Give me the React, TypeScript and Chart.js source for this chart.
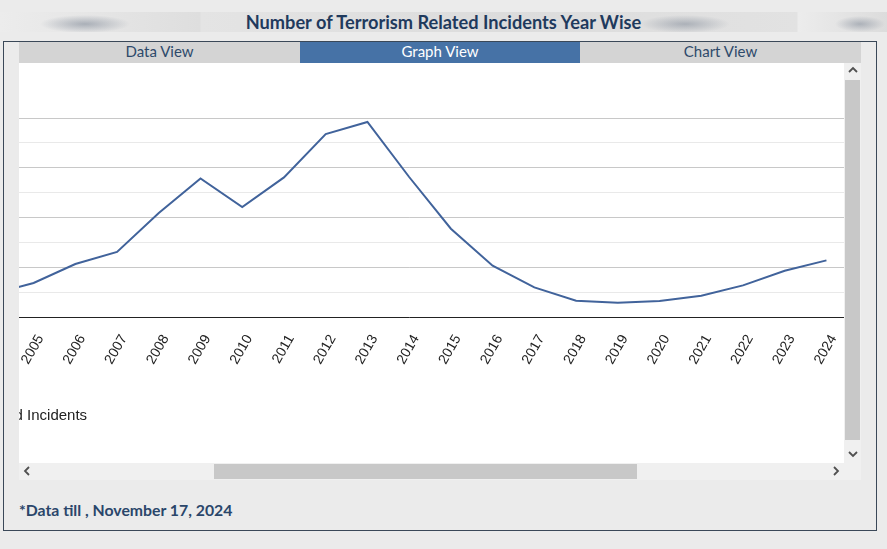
import React, { useEffect, useRef } from 'react';
import { Chart, registerables } from 'chart.js';

Chart.register(...registerables);

const years = ['2004', '2005', '2006', '2007', '2008', '2009', '2010', '2011', '2012', '2013', '2014', '2015', '2016', '2017', '2018', '2019', '2020', '2021', '2022', '2023', '2024'];
const incidents = [460, 683, 1065, 1307, 2090, 2786, 2211, 2806, 3678, 3920, 2814, 1775, 1031, 595, 328, 287, 322, 428, 635, 931, 1138];
const yMax = 4000;
const yStep = 500;
const seriesLabel = 'Terrorism Related Incidents';
const titleText = 'Number of Terrorism Related Incidents Year Wise';
const tabLabels = ['Data View', 'Graph View', 'Chart View'];
const footnote = '*Data till , November 17, 2024';

const ARIAL = '"Liberation Sans", Arial, sans-serif';
const UIFONT = 'Lato, "Open Sans", sans-serif';

function Chevron({ dir, x, y }: { dir: 'up' | 'down' | 'left' | 'right'; x: number; y: number }) {
  const pts: Record<string, string> = {
    up: '1,6 5,2 9,6',
    down: '1,2 5,6 9,2',
    left: '6,1 2,5 6,9',
    right: '2,1 6,5 2,9',
  };
  return (
    <svg width={10} height={10} style={{ position: 'absolute', left: x, top: y }}>
      <polyline points={pts[dir]} fill="none" stroke="#505050" strokeWidth={1.8} />
    </svg>
  );
}

export default function App() {
  const canvasRef = useRef<HTMLCanvasElement | null>(null);

  useEffect(() => {
    document.body.style.margin = '0';
    const canvas = canvasRef.current;
    if (!canvas) return;
    const chart = new Chart(canvas, {
      type: 'line',
      data: {
        labels: years,
        datasets: [
          {
            label: seriesLabel,
            data: incidents,
            borderColor: '#41639b',
            backgroundColor: '#41639b',
            borderWidth: 2,
            pointRadius: 0,
            tension: 0,
            fill: false,
          },
        ],
      },
      options: {
        animation: false,
        responsive: false,
        maintainAspectRatio: false,
        layout: { padding: { top: 55, bottom: 30, left: 0, right: 0 } },
        plugins: {
          legend: {
            position: 'bottom',
            align: 'start',
            labels: {
              font: { family: ARIAL, size: 15 },
              color: '#222222',
              boxWidth: 43,
            },
          },
          tooltip: { enabled: false },
        },
        scales: {
          x: {
            offset: true,
            grid: { display: false, drawTicks: false },
            border: { display: true, color: '#222222', width: 1 },
            ticks: {
              autoSkip: false,
              maxRotation: 60,
              minRotation: 60,
              padding: 15,
              labelOffset: 7,
              color: '#222222',
              font: { family: ARIAL, size: 14 },
            },
            afterFit: (s: any) => {
              s.height = 81;
            },
          },
          y: {
            min: 0,
            max: yMax,
            ticks: { stepSize: yStep, display: false },
            grid: {
              drawTicks: false,
              color: (c: any) => (c.tick && c.tick.value % 1000 === 0 ? '#c8c8c8' : '#e9e9e9'),
            },
            border: { display: false },
            afterFit: (s: any) => {
              s.width = 127;
            },
          },
        },
      },
    });
    return () => chart.destroy();
  }, []);

  return (
    <div style={{ position: 'absolute', left: 0, top: 0, width: 887, height: 549, background: '#ebebeb', overflow: 'hidden' }}>
      {/* title banner */}
      <div
        style={{
          position: 'absolute', left: 0, top: 12, width: 887, height: 20,
          background:
            'radial-gradient(ellipse 45px 9px at 85px 12px, rgba(120,130,145,0.55), rgba(120,130,145,0) 100%),' +
            'radial-gradient(ellipse 45px 9px at 685px 12px, rgba(120,130,145,0.5), rgba(120,130,145,0) 100%),' +
            'radial-gradient(ellipse 25px 8px at 860px 12px, rgba(120,130,145,0.5), rgba(120,130,145,0) 100%),' +
            'linear-gradient(90deg, #ececec 0px, #dedede 200px, #e4e4e4 201px, #dcdcdc 500px, #e2e2e2 797px, #ececec 798px, #dcdcdc 887px)',
        }}
      />
      <div
        style={{
          position: 'absolute', left: 0, top: 10, width: 887, height: 24, textAlign: 'center',
          font: `bold 18.2px ${UIFONT}`, color: '#1f3a5d', lineHeight: '24px',
        }}
      >
        {titleText}
      </div>

      {/* frame */}
      <div style={{ position: 'absolute', left: 3, top: 41, width: 872, height: 488, border: '1px solid #3a4858', background: '#ebebeb' }} />

      {/* tabs */}
      {tabLabels.map((t, i) => {
        const lefts = [19, 300, 580];
        const widths = [281, 280, 281];
        const active = i === 1;
        return (
          <div
            key={t}
            style={{
              position: 'absolute', left: lefts[i], top: 42, width: widths[i], height: 21,
              background: active ? '#4672a6' : '#d4d4d4', color: active ? '#ffffff' : '#2e4a6b',
              textAlign: 'center', lineHeight: '23px', font: `15px ${UIFONT}`, overflow: 'hidden',
            }}
          >
            {t}
          </div>
        );
      })}

      {/* chart viewport */}
      <div style={{ position: 'absolute', left: 19, top: 63, width: 825, height: 400, overflow: 'hidden', background: '#ffffff' }}>
        <canvas ref={canvasRef} width={1012} height={400} style={{ position: 'absolute', left: -175, top: 0, width: 1012, height: 400 }} />
      </div>

      {/* vertical scrollbar */}
      <div style={{ position: 'absolute', left: 844, top: 63, width: 17, height: 417, background: '#f0f0f0' }} />
      <div style={{ position: 'absolute', left: 845, top: 80, width: 15, height: 360, background: '#c8c8c8' }} />
      <Chevron dir="up" x={848} y={66} />
      <Chevron dir="down" x={848} y={450} />

      {/* horizontal scrollbar */}
      <div style={{ position: 'absolute', left: 19, top: 463, width: 825, height: 17, background: '#f0f0f0' }} />
      <div style={{ position: 'absolute', left: 214, top: 464, width: 423, height: 15, background: '#c8c8c8' }} />
      <Chevron dir="left" x={23} y={466} />
      <Chevron dir="right" x={832} y={466} />

      {/* footnote */}
      <div style={{ position: 'absolute', left: 19, top: 500, font: `bold 15.8px ${UIFONT}`, color: '#2a466a', whiteSpace: 'nowrap' }}>
        {footnote}
      </div>
    </div>
  );
}
